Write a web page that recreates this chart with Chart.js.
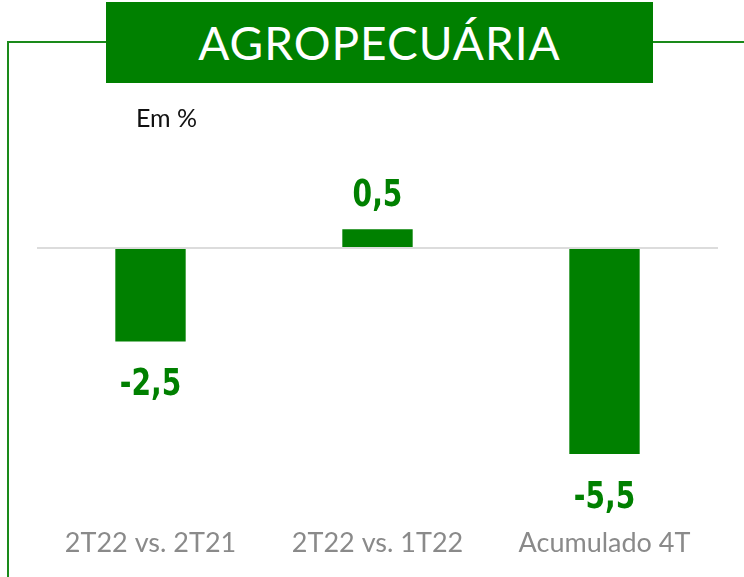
<!DOCTYPE html>
<html>
<head>
<meta charset="utf-8">
<script src="https://cdn.jsdelivr.net/npm/chart.js@4"></script>
<style>
  html, body { margin: 0; padding: 0; background: #fff; }
  #wrap { position: relative; width: 744px; height: 577px; overflow: hidden; font-family: Lato, "Open Sans", sans-serif; }
  #chart { position: absolute; left: 0; top: 0; }
  .line-h { position: absolute; height: 2px; background: #1a8a1a; }
  .line-v { position: absolute; width: 2px; background: #1a8a1a; }
  #title { position: absolute; left: 106px; top: 2px; width: 547px; height: 81px; background: #008000;
           color: #fff; font-size: 46px; line-height: 81px; text-align: center; letter-spacing: 1px; }
  #unit { position: absolute; left: 136px; top: 102px; font-size: 25px; color: #111; }
</style>
</head>
<body>
<div id="wrap">
  <canvas id="chart" width="744" height="577"></canvas>
  <div class="line-h" style="left:7px; top:41px; width:99px;"></div>
  <div class="line-h" style="left:653px; top:41px; width:91px;"></div>
  <div class="line-v" style="left:7px; top:41px; height:536px;"></div>
  <div id="title">AGROPECUÁRIA</div>
  <div id="unit">Em %</div>
</div>
<script>
// dados do gráfico
const categories = ['2T22 vs. 2T21', '2T22 vs. 1T22', 'Acumulado 4T'];
const values = [-2.5, 0.5, -5.5];
const valueLabels = ['-2,5', '0,5', '-5,5'];

const green = '#008000';

// rótulos de valor nas pontas das barras (fonte condensada via escala horizontal)
const valueLabelPlugin = {
    id: 'valueLabels',
    afterDatasetsDraw(chart) {
        const ctx = chart.ctx;
        const meta = chart.getDatasetMeta(0);
        meta.data.forEach((bar, i) => {
            const y = values[i] >= 0 ? bar.y - 33 : bar.y + 44;
            ctx.save();
            ctx.translate(bar.x, y);
            ctx.scale(0.74, 1);
            ctx.fillStyle = green;
            ctx.font = 'bold 38px "DejaVu Sans", sans-serif';
            ctx.textAlign = 'center';
            ctx.textBaseline = 'middle';
            ctx.fillText(valueLabels[i], 0, 0);
            ctx.restore();
        });
    }
};

new Chart(document.getElementById('chart'), {
    type: 'bar',
    data: {
        labels: categories,
        datasets: [{
            data: values,
            backgroundColor: green,
            categoryPercentage: 1,
            barPercentage: 0.31
        }]
    },
    options: {
        responsive: false,
        animation: false,
        layout: { padding: { left: 37, right: 26, top: 160, bottom: 14 } },
        plugins: { legend: { display: false }, tooltip: { enabled: false } },
        scales: {
            x: {
                grid: { display: false },
                border: { display: false },
                ticks: { color: '#8a8a8a', font: { size: 27, family: 'Lato, "Open Sans", sans-serif' }, padding: 4 }
            },
            y: {
                min: -7.12,
                max: 2.35,
                display: true,
                border: { display: false },
                ticks: { display: false, stepSize: 1 },
                grid: {
                    color: c => c.tick.value === 0 ? '#dcdcdc' : 'transparent',
                    lineWidth: 2,
                    drawTicks: false
                }
            }
        }
    },
    plugins: [valueLabelPlugin]
});
</script>
</body>
</html>
